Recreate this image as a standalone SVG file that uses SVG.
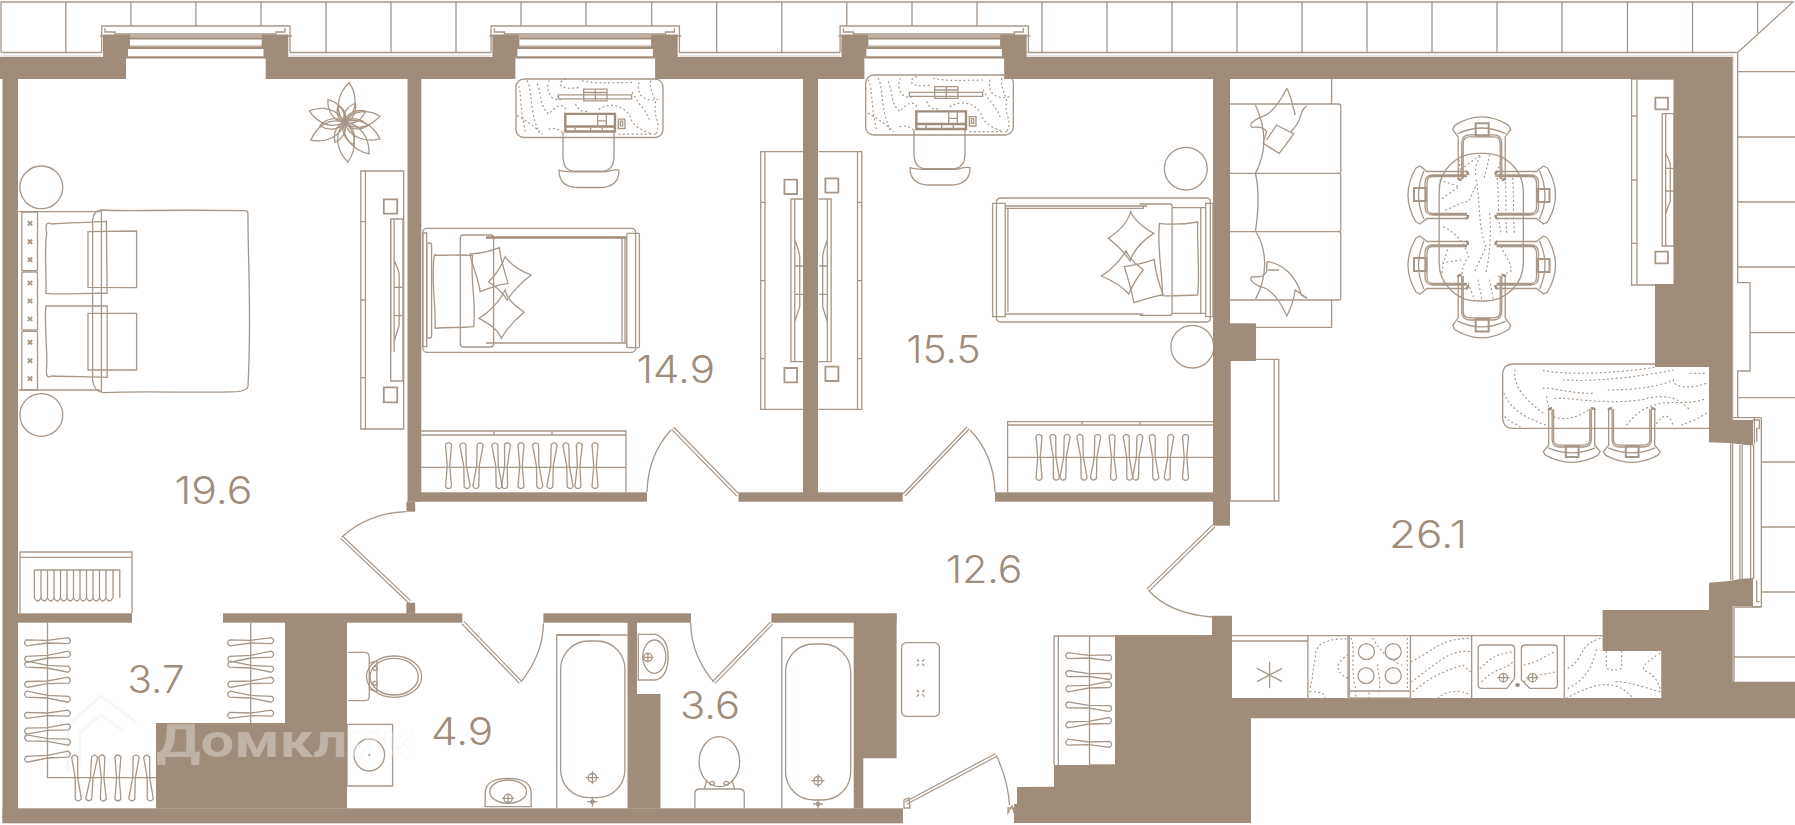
<svg xmlns="http://www.w3.org/2000/svg" xmlns:xlink="http://www.w3.org/1999/xlink" width="1795" height="825" viewBox="0 0 1795 825">
<style>
.w{fill:#a08c7b;stroke:none}
.l{fill:none;stroke:#a89686;stroke-width:1.3;vector-effect:non-scaling-stroke}
.t{fill:none;stroke:#a08c7b;stroke-width:2.4;vector-effect:non-scaling-stroke}
.p{fill:#a08c7b;stroke:none}
.d{fill:none;stroke:#a89686;stroke-width:1.2;stroke-dasharray:1 3.4;stroke-linecap:round;vector-effect:non-scaling-stroke}
.lf{fill:none;stroke:#a89686;stroke-width:4.2}
.lw{fill:none;stroke:#fff;stroke-width:1.8}
.n{font-family:"Inter","Lato","Liberation Sans",sans-serif;font-weight:300;font-size:38.5px;fill:#a08c7b}
.wm{font-family:"Roboto","Liberation Sans",sans-serif;font-weight:700;font-size:47px;fill:#fff;fill-opacity:.34;stroke:#888;stroke-opacity:.06}
</style>
<defs>
<path id="h" class="l" d="M-3,-21 Q0,-25 3,-21 L1.3,0 L3,21 Q0,25 -3,21 L-1.3,0 Z"/>
<path id="petal" class="l" d="M0,0 C-12,-11 -10,-28 0,-40 C10,-28 12,-11 0,0Z"/>
<g id="xm"><path class="l" style="stroke-width:1.8" d="M-2.2,-2.2 L2.2,2.2 M-2.2,2.2 L2.2,-2.2"/></g>
<g id="cross"><circle class="l" r="4.2"/><path class="l" d="M-6.5,0 H6.5 M0,-6.5 V6.5"/></g>
<g id="chair">
<path class="l" d="M-27,-9 Q0,-25 27,-9 L29,-5 L23.5,2 V41 M-27,-9 L-29,-5 L-23.5,2 V41"/>
<path class="l" d="M-24,-1 Q0,-12 24,-1"/>
<path class="l" d="M-20,42 V8 Q-20,0 -12,0 H12 Q20,0 20,8 V42 M-18.5,42 V8 Q-18.5,2 -12,2 H12 Q18.5,2 18.5,8 V42"/>
<path class="t" d="M-23.5,41 Q-23.5,43 -20,43 M23.5,41 Q23.5,43 20,43"/>
<rect class="l" style="stroke-width:2" x="-6" y="-11" width="13" height="12"/>
</g>
<g id="win">
<path class="l" d="M101.7,52.5 V26 H290 V52.5 M100,36 H108 M283,36 H292"/>
<path class="l" d="M105,28 V32 H115 V34 H276 V32 H285 V28"/>
<path class="l" d="M130,36 H262"/>
<path class="t" d="M130,38.4 H262"/>
<path class="l" style="stroke-opacity:.6" d="M130,46 H262"/>
<path class="t" d="M128,47.8 H264"/>
<path class="t" d="M126,57.4 H266"/>
</g>
<g id="desk" transform="translate(850,70) scale(.33333)">
<g class="dots">
<path class="d" d="M55,30 C70,60 60,100 80,180"/><path class="d" d="M85,25 C100,50 90,110 120,180"/><path class="d" d="M115,35 C130,70 120,100 150,125 C170,100 190,90 200,110"/><path class="d" d="M150,25 C140,50 150,90 190,80"/><path class="d" d="M200,20 C170,30 180,55 240,45"/><path class="d" d="M55,130 C90,150 110,165 130,185"/><path class="d" d="M250,25 C300,35 340,30 400,30"/><path class="d" d="M420,30 C410,70 440,90 480,80"/><path class="d" d="M455,25 C450,60 470,70 470,100 C460,130 490,150 470,185"/><path class="d" d="M230,95 C240,115 250,120 270,115"/><path class="d" d="M300,110 C340,85 380,105 395,135 C400,160 430,175 460,185"/><path class="d" d="M400,60 C420,100 440,110 450,140"/><path class="d" d="M150,170 C165,165 180,170 190,180"/><path class="d" d="M360,185 H470"/>
</g>
<rect class="l" x="178" y="67" width="220" height="12"/>
<rect class="l" x="254" y="50" width="70" height="35"/>
<path class="l" d="M254,60 H324 M289,50 V85"/>
<rect class="t" x="199" y="124" width="149" height="53"/>
<path class="t" d="M199,162 H348"/>
<path class="l" d="M296,124 V162 M322,124 V162 M296,145 H322 M228,162 V177 M275,162 V177 M310,162 V177"/>
<rect class="l" x="358" y="140" width="20" height="28"/>
<rect class="l" x="364" y="146" width="7" height="14"/>
<path class="l" d="M192,180 V250 Q192,295 225,296 H310 Q345,295 345,250 V180"/>
<path class="l" d="M180,293 Q180,345 240,345 H300 Q360,345 360,293 Q345,290 320,298 H220 Q195,298 180,293Z"/>
</g>
<g id="tv3">
<path class="l" d="M0,0 V400 M9,0 V400 M9,125 Q20,150 22,165 V320 Q14,345 10,365 M9,205 H30 M9,290 H30"/>
</g>
</defs>

<g id="balcony">
<path class="l" d="M1,52.5 V2 H1793 L1737.7,52.5 V282.7 H1750 V371 H1737.7 V418 M1.5,52.5 H101.7 M290,52.5 H491 M679,52.5 H840 M1027.5,52.5 H1737.7"/>
<path class="l" style="stroke-opacity:.35" d="M1,56 H101 M290,56 H491 M679,56 H840 M1027.5,56 H1733 V420 M1733,606 V682"/>
<path class="l" d="M65.8,2 V52.5 M130.9,2 V26 M195.9,2 V26 M261,2 V26 M326,2 V52.5 M391,2 V52.5 M456,2 V52.5 M521,2 V26 M586,2 V26 M651.7,2 V26 M716.7,2 V52.5 M781.8,2 V52.5 M846.8,2 V26 M912,2 V26 M977,2 V26 M1042,2 V52.5 M1107,2 V52.5 M1172,2 V52.5 M1237,2 V52.5 M1302,2 V52.5 M1367,2 V52.5 M1432,2 V52.5 M1497,2 V52.5 M1562,2 V52.5 M1627.5,2 V52.5 M1692.5,2 V52.5 M1757.6,2 V33"/>
<path class="l" d="M1737.7,71.7 H1795 M1737.7,137 H1795 M1737.7,202 H1795 M1737.7,267 H1795 M1750,332.7 H1795 M1737.7,397.7 H1795 M1761,462 H1795 M1761,527 H1795 M1761,592 H1795 M1734,657 H1795 M1734,607 H1761 M1734,682 V607"/>
</g>

<g id="windows">
<use xlink:href="#win" href="#win"/>
<use xlink:href="#win" href="#win" transform="translate(389.4,0)"/>
<use xlink:href="#win" href="#win" transform="translate(738.4,0)"/>
<g transform="translate(1195,405) scale(.38265,.33333)">
<path class="l" d="M1400,115 V525 M1405,115 V525 M1424,120 V522 M1430,120 V522 M1452,122 V520 M1460,120 V522 M1480,38 V605 H1455 M1405,38 H1480 M1458,45 H1475 V70 H1468 V110 M1468,525 V590 H1475 M1462,40 V118"/>
</g>
</g>

<g id="furniture">
<g transform="translate(1,0)">
<rect class="l" x="515" y="79" width="147" height="58.5" rx="8"/>
</g>
<use xlink:href="#desk" href="#desk" transform="translate(-351,2.5)"/>
<rect class="l" x="865.7" y="75" width="147.6" height="60" rx="8"/>
<use xlink:href="#desk" href="#desk"/>

<g id="plant" transform="translate(344.4,122.3)">
<use href="#petal" transform="rotate(7)"/><use href="#petal" transform="rotate(80) scale(.9)"/><use href="#petal" transform="rotate(115) scale(.98)"/><use href="#petal" transform="rotate(142)"/><use href="#petal" transform="rotate(175)"/><use href="#petal" transform="rotate(242) scale(.95)"/><use href="#petal" transform="rotate(288) scale(.92)"/><use href="#petal" transform="rotate(324) scale(.7)"/>
<use href="#petal" transform="rotate(30) scale(.55)"/><use href="#petal" transform="rotate(62) scale(.6)"/><use href="#petal" transform="rotate(98) scale(.6)"/><use href="#petal" transform="rotate(158) scale(.6)"/><use href="#petal" transform="rotate(205) scale(.55)"/><use href="#petal" transform="rotate(262) scale(.62)"/><use href="#petal" transform="rotate(340) scale(.45)"/>
</g>

<g id="bed1" transform="scale(.38265,.33333)">
<ellipse class="l" cx="108" cy="562" rx="56" ry="64"/>
<ellipse class="l" cx="108" cy="1245" rx="56" ry="64"/>
<path class="l" d="M48,635 H262 M48,1170 H262"/>
<rect class="l" x="57" y="636" width="41" height="176" rx="3"/><rect class="l" x="57" y="816" width="41" height="174" rx="3"/><rect class="l" x="57" y="994" width="41" height="176" rx="3"/>
<path class="l" d="M265,630 C350,635 400,628 640,632 Q648,632 648,642 C648,800 658,950 648,1160 Q645,1172 620,1175 C500,1180 400,1172 270,1178 Q245,1175 242,1140 V660 Q244,632 265,630Z M265,632 V1176"/>
<path class="l" d="M122,700 Q115,660 135,672 C170,668 220,668 278,664 L280,880 C220,878 170,885 120,880 C122,820 115,750 122,700Z"/>
<path class="l" d="M120,918 H280 V1132 C220,1130 170,1130 135,1128 Q118,1140 122,1100 C125,1060 115,980 120,918Z"/>
<path class="l" d="M230,695 L357,693 V863 L230,862Z M230,940 L357,940 V1110 L230,1110Z"/>
</g>
<g id="bed1marks">
<use href="#xm" x="30" y="223.3"/><use href="#xm" x="30" y="241.7"/><use href="#xm" x="30" y="259.7"/><use href="#xm" x="30" y="283"/><use href="#xm" x="30" y="301"/><use href="#xm" x="30" y="319"/><use href="#xm" x="30" y="342.3"/><use href="#xm" x="30" y="360.7"/><use href="#xm" x="30" y="378.7"/>
</g>

<g id="tvunit1" transform="scale(.38265,.33333)">
<rect class="l" x="943" y="513" width="112" height="774"/>
<path class="l" d="M955,513 V1287 M943,665 H955 M943,900 H955 M943,1133 H955"/>
<rect class="l" x="1003" y="598" width="35" height="43" style="stroke-width:1.8"/><rect class="l" x="1003" y="1162" width="35" height="45" style="stroke-width:1.8"/>
<rect class="l" x="1021" y="657" width="32" height="486"/>
<use href="#tv3" transform="translate(1021,657)"/>
</g>

<g id="bed2">
<rect class="l" x="422.8" y="228.3" width="212.8" height="124" rx="4"/>
<rect class="l" x="626.8" y="233.3" width="12.6" height="114.4" rx="1"/>
<rect class="l" x="422.8" y="233" width="3.9" height="113.7"/>
<rect class="l" x="426.7" y="243" width="4.9" height="95" rx="2"/>
<rect class="l" x="460.3" y="235" width="33.3" height="112" rx="3"/>
<path class="t" d="M486,237.5 H626"/>
<path class="l" d="M486,343 H626 M622,238 V343 M625,238 V343"/>
<g transform="scale(.38265,.33333)">
<path class="l" d="M1135,765 C1170,768 1200,762 1235,767 C1228,840 1245,900 1238,980 C1200,985 1170,980 1137,985 C1140,910 1125,840 1135,765Z"/>
<path class="l" d="M1228,762 C1260,760 1280,755 1305,743 C1308,780 1320,820 1328,850 C1300,855 1275,865 1255,875 C1250,835 1235,800 1228,762Z"/>
<path class="l" d="M1320,770 C1335,795 1365,815 1388,825 C1365,845 1340,875 1325,900 C1315,875 1295,860 1277,845 C1295,825 1310,800 1320,770Z"/>
<path class="l" d="M1320,870 C1325,900 1350,920 1370,937 C1345,960 1325,985 1310,1015 C1300,985 1275,970 1252,955 C1280,935 1305,905 1320,870Z"/>
</g>
</g>

<g id="tvunits23" transform="translate(600,0) scale(.38265,.33333)">
<path class="l" d="M531,455 H420 V1228 H531 M431,455 V1228 M420,607 H431 M420,842 H431 M420,1076 H431"/>
<path class="l" d="M571,455 H684 V1228 H571 M673,455 V1228 M673,607 H684 M673,842 H684 M673,1076 H684"/>
<rect class="l" x="482" y="539" width="33" height="43" style="stroke-width:1.8"/><rect class="l" x="482" y="1104" width="33" height="43" style="stroke-width:1.8"/>
<rect class="l" x="589" y="535" width="34" height="43" style="stroke-width:1.8"/><rect class="l" x="589" y="1100" width="34" height="43" style="stroke-width:1.8"/>
<path class="l" d="M531,597 H499 V1085 H531 M509,597 V1085 M509,720 Q520,750 522,770 V920 Q515,945 509,965 M509,798 H531 M509,883 H531"/>
<path class="l" d="M571,597 H604 V1085 H571 M594,597 V1085 M594,720 Q584,750 582,770 V920 Q588,945 594,965 M573,798 H594 M573,883 H594"/>
</g>

<g id="bed3" transform="translate(600,0) scale(.38265,.33333)">
<ellipse class="l" cx="1531" cy="506" rx="56" ry="64"/>
<ellipse class="l" cx="1548" cy="1040" rx="56" ry="64"/>
<path class="l" d="M1585,594 H1050 Q1036,594 1036,606 V955 Q1036,966 1050,966 H1585 Q1595,966 1595,955 V606 Q1595,594 1585,594Z"/>
<rect class="l" x="1026" y="610" width="33" height="340"/>
<rect class="l" x="1583" y="610" width="19" height="340"/>
<path class="l" d="M1059,618 H1430 M1059,625 H1420 V620 M1066,625 V935 M1059,942 H1420"/>
<path class="l" d="M1410,612 H1490 Q1495,612 1495,618 V940 Q1495,946 1490,946 H1410 M1495,623 H1583 M1495,940 H1583 M1570,623 V940"/>
<path class="l" d="M1387,635 C1395,660 1425,685 1447,700 C1420,720 1395,750 1385,783 C1370,755 1345,730 1328,715 C1355,695 1380,665 1387,635Z"/>
<path class="l" d="M1375,752 C1385,780 1400,790 1420,810 C1405,830 1390,860 1382,882 C1365,860 1335,840 1310,828 C1335,810 1360,780 1375,752Z"/>
<path class="l" d="M1370,800 C1395,795 1425,790 1448,778 C1452,815 1460,850 1472,885 C1445,888 1420,900 1395,908 C1390,875 1380,835 1370,800Z"/>
<path class="l" d="M1462,670 C1495,675 1530,672 1562,666 C1560,740 1568,810 1562,885 C1530,885 1495,890 1470,887 C1470,815 1455,745 1462,670Z"/>
</g>

<g id="wardrobe1">
<path class="l" d="M421.3,431 H626 V492 M421.3,435 H626 M421.3,467.3 H626 M494,431 V435 M552,431 V435"/>
<use href="#h" transform="translate(448.5,465.7)"/><use href="#h" transform="translate(465,465.7) rotate(-6)"/><use href="#h" transform="translate(478,465.7) rotate(6)"/><use href="#h" transform="translate(497,465.7) rotate(-6)"/><use href="#h" transform="translate(506,465.7) rotate(4)"/><use href="#h" transform="translate(521,465.7)"/><use href="#h" transform="translate(537.7,465.7) rotate(-6)"/><use href="#h" transform="translate(552,465.7) rotate(6)"/><use href="#h" transform="translate(568,465.7) rotate(-6)"/><use href="#h" transform="translate(578.6,465.7) rotate(2)"/><use href="#h" transform="translate(595,465.7)"/>
</g>
<g id="wardrobe2">
<path class="l" d="M1007.6,492 V421.7 H1213 M1007.6,425 H1213 M1007.6,457.3 H1213 M1082,421.7 V425 M1140,421.7 V425"/>
<use href="#h" transform="translate(1039,457.3)"/><use href="#h" transform="translate(1054.6,457.3) rotate(-5)"/><use href="#h" transform="translate(1065,457.3) rotate(6)"/><use href="#h" transform="translate(1082,457.3) rotate(-6)"/><use href="#h" transform="translate(1095.6,457.3) rotate(6)"/><use href="#h" transform="translate(1112.8,457.3) rotate(-2)"/><use href="#h" transform="translate(1128,457.3) rotate(-5)"/><use href="#h" transform="translate(1137.7,457.3) rotate(6)"/><use href="#h" transform="translate(1154,457.3) rotate(-5)"/><use href="#h" transform="translate(1169,457.3) rotate(5)"/><use href="#h" transform="translate(1185.5,457.3)"/>
</g>

<g id="radiator">
<path class="l" d="M20,613 V552 H132 V613 M20,557.3 H132"/>
<path class="l" d="M34.4,598 V570 H119.8 V598 M41,570 V598 M47.5,570 V598 M54,570 V598 M60.5,570 V598 M67,570 V598 M73.5,570 V598 M80,570 V598 M86.5,570 V598 M93,570 V598 M99.5,570 V598 M106,570 V598 M113,570 V598"/>
<path class="l" d="M34.4,598 q3.3,6 6.6,0 q3.3,6 6.5,0 q3.3,6 6.5,0 q3.3,6 6.5,0 q3.3,6 6.5,0 q3.3,6 6.5,0 q3.3,6 6.5,0 q3.3,6 6.5,0 q3.3,6 6.5,0 q3.3,6 6.5,0 q3.3,6 6.5,0 q3.3,6 6.8,0"/>
</g>

<g id="closet1">
<path class="l" d="M47.5,622.7 V777.7 H156 M250.7,622.7 V723"/>
<use href="#h" transform="translate(47.5,641.7) rotate(87)"/><use href="#h" transform="translate(47.5,656.7) rotate(83)"/><use href="#h" transform="translate(47.5,666.7) rotate(97)"/><use href="#h" transform="translate(47.5,682.3) rotate(84)"/><use href="#h" transform="translate(47.5,696.7) rotate(97)"/><use href="#h" transform="translate(47.5,714.3) rotate(87)"/><use href="#h" transform="translate(47.5,729) rotate(84)"/><use href="#h" transform="translate(47.5,740) rotate(96)"/><use href="#h" transform="translate(47.5,756.7) rotate(83)"/>
<use href="#h" transform="translate(250.7,641.7) rotate(87)"/><use href="#h" transform="translate(250.7,656.7) rotate(83)"/><use href="#h" transform="translate(250.7,666.7) rotate(97)"/><use href="#h" transform="translate(250.7,682.3) rotate(84)"/><use href="#h" transform="translate(250.7,696.7) rotate(97)"/><use href="#h" transform="translate(250.7,714.3) rotate(87)"/>
<use href="#h" transform="translate(76.5,778) rotate(-5)"/><use href="#h" transform="translate(91.7,778) rotate(8)"/><use href="#h" transform="translate(102.6,778) rotate(-2)"/><use href="#h" transform="translate(117.9,778)"/><use href="#h" transform="translate(134,778) rotate(6)"/><use href="#h" transform="translate(148.5,778) rotate(-5)"/>
</g>

<g id="closet2">
<path class="l" d="M1054,765 V636 H1115 M1058.3,636 V765 M1089.5,636 V765 H1115"/>
<use href="#h" transform="translate(1088.7,656.7) rotate(93)"/><use href="#h" transform="translate(1088.7,675) rotate(94)"/><use href="#h" transform="translate(1088.7,686.7) rotate(84)"/><use href="#h" transform="translate(1088.7,706.7) rotate(95)"/><use href="#h" transform="translate(1088.7,722.7) rotate(84)"/><use href="#h" transform="translate(1088.7,743.3) rotate(93)"/>
</g>

<g id="bath1" transform="translate(0,405) scale(.38265,.33333)">
<path class="l" d="M910,742 H952 Q965,742 965,755 V875 Q965,887 952,887 H910"/>
<ellipse class="l" cx="1030" cy="815" rx="72" ry="62"/><ellipse class="l" cx="1030" cy="815" rx="63" ry="55"/>
<path class="l" d="M965,775 L985,768 V860 L965,853"/><circle class="l" cx="980" cy="790" r="6"/><circle class="l" cx="980" cy="835" r="6"/>
<rect class="l" x="907" y="958" width="119" height="185"/>
<ellipse class="l" cx="965" cy="1050" rx="40" ry="48"/><circle cx="965" cy="1050" r="3" class="p"/>
<path class="l" d="M1268,1205 V1165 Q1268,1120 1328,1120 Q1388,1120 1388,1165 V1205 Z"/>
<ellipse class="l" cx="1328" cy="1160" rx="48" ry="35"/>
<ellipse class="l" cx="1328" cy="1180" rx="11" ry="12"/><path class="l" d="M1312,1180 H1344 M1328,1165 V1195"/>
<path class="l" d="M1455,1210 V690 H1568"/>
</g>
<path class="l" d="M556.8,635 H627.5"/>
<rect class="l" x="560.6" y="641" width="64.3" height="156.7" rx="28"/>
<use href="#cross" transform="translate(592.4,777.7)"/>
<g transform="translate(592.4,801.7)"><circle r="2.2" class="p"/><path class="l" d="M-5,0 H5 M0,-5 V5"/></g>

<g id="bath2" transform="translate(600,405) scale(.38265,.33333)">
<path class="l" d="M100,688 H145 Q178,700 178,755 Q178,815 145,825 H100Z"/>
<ellipse class="l" cx="142" cy="755" rx="30" ry="50"/>
<ellipse class="l" cx="125" cy="757" rx="11" ry="12"/><path class="l" d="M110,757 H140 M125,742 V772"/>
<ellipse class="l" cx="312" cy="1070" rx="53" ry="75"/>
<path class="l" d="M248,1210 V1165 Q248,1152 262,1152 H362 Q377,1152 377,1165 V1210 M280,1125 L272,1152 M345,1125 L352,1152"/>
<circle class="l" cx="293" cy="1135" r="6"/><circle class="l" cx="330" cy="1135" r="6"/>
<path class="l" d="M475,1210 V698 H663"/>
<rect class="l" x="788" y="713" width="99" height="221" rx="14"/>
<path class="l" d="M828,763 L834,770 M848,763 L842,770 M828,783 L834,776 M848,783 L842,776 M828,855 L834,862 M848,855 L842,862 M828,875 L834,868 M848,875 L842,868"/>
</g>
<rect class="l" x="785.6" y="644" width="65.1" height="156" rx="28"/>
<use href="#cross" transform="translate(818,780.7)"/>
<g transform="translate(818,804)"><circle r="2.2" class="p"/><path class="l" d="M-5,0 H5 M0,-5 V5"/></g>

<g id="living" transform="translate(1195,0) scale(.38265,.33333)">
<path class="l" d="M357,237 V312 M357,900 V982 H160"/>
<path class="l" d="M91,312 H375 Q381,312 381,318 V514 Q381,520 375,520 H91 M375,520 Q381,520 381,526 V688 Q381,695 375,695 H91 M375,695 Q381,695 381,701 V895 Q381,900 375,900 H91"/>
<path class="l" d="M158,315 C180,370 195,440 158,520 C170,580 165,640 158,693 C190,750 190,830 158,898"/>
<path class="l" d="M240,265 C225,300 200,345 170,352 Q135,372 150,382 C165,380 180,380 187,395 L178,430 L220,460 L258,402 L213,375 L187,420 M240,265 C250,285 255,315 262,345 M293,318 C270,330 285,360 250,395"/>
<path class="l" d="M240,948 C225,910 200,865 170,860 Q135,840 150,830 C165,832 180,832 187,815 L188,785 C230,790 265,830 278,885 L293,895 L262,870 C258,900 250,925 240,948Z M190,810 H220"/>
<rect class="l" x="1141" y="237" width="111" height="618"/>
<path class="l" d="M1155,237 V855 M1141,348 H1155 M1141,540 H1155 M1141,730 H1155"/>
<rect class="l" x="1203" y="293" width="33" height="35" style="stroke-width:1.8"/><rect class="l" x="1203" y="755" width="33" height="35" style="stroke-width:1.8"/>
<rect class="l" x="1221" y="341" width="31" height="397"/>
<path class="l" d="M1230,341 V738 M1230,460 Q1240,480 1242,495 V605 Q1235,620 1231,640 M1230,505 H1250 M1230,573 H1250"/>
<rect class="l" x="92" y="1078" width="127" height="425"/>
<path class="l" d="M207,1078 V1503"/>
<rect class="l" x="638" y="460" width="220" height="443" rx="100" ry="115"/>
<path class="d" d="M705,500 L745,465 M745,470 C735,490 730,510 735,530 M770,465 C765,490 760,520 755,535 M800,475 C795,500 790,520 785,530 M690,480 L695,525"/>
<path class="d" d="M640,540 L690,560 L640,600 M655,630 C680,620 695,605 715,605 L735,555 M735,540 C745,600 740,680 760,740 C750,770 735,800 730,820"/>
<path class="d" d="M790,535 C795,600 790,650 800,700 M810,535 C815,580 810,650 815,700 M830,535 C835,590 830,650 835,700 M650,680 C680,700 700,720 715,770 C700,790 695,820 700,830 M770,640 C775,690 770,770 760,820"/>
<path class="d" d="M660,750 C650,780 645,810 645,830 M800,740 C815,780 830,790 825,815 L790,830 M695,780 L640,790 M740,840 L750,900 M715,850 L730,900 M770,840 L780,900"/>
</g>
<use href="#chair" transform="translate(1481.7,134.8) scale(1,1.05)"/>
<use href="#chair" transform="translate(1481.7,320) scale(1,-1.05)"/>
<use href="#chair" transform="translate(1425,195) rotate(-90)"/>
<use href="#chair" transform="translate(1425,265) rotate(-90)"/>
<use href="#chair" transform="translate(1538.5,195) rotate(90)"/>
<use href="#chair" transform="translate(1538.5,265) rotate(90)"/>

<g id="bar">
<g transform="translate(1500,360) scale(.33333)">
<path class="l" d="M465,12 H40 Q8,12 8,45 V170 Q8,205 40,205 H627"/>
<path class="d" d="M130,32 C200,45 350,40 465,22 M190,60 C300,65 420,50 520,30 M570,40 L620,40 M45,30 C40,60 50,100 130,160 M130,85 C150,80 200,100 280,100 M325,90 C400,90 480,80 520,60 C520,80 560,90 620,70 M12,100 C30,140 60,170 140,195 M165,115 C200,110 300,135 420,120 C500,100 530,110 570,150 M140,110 C140,130 150,150 160,170 C200,185 240,170 280,140 M380,195 C400,170 420,150 450,140 C500,115 560,140 620,115 M470,190 C490,160 510,160 520,200 M545,195 C570,185 600,175 625,155 M15,170 C30,190 50,190 60,200"/>
</g>
<use href="#chair" transform="translate(1571.7,447) scale(.98,-.9)"/>
<use href="#chair" transform="translate(1631.7,447) scale(.98,-.9)"/>
</g>

<g id="kitchen" transform="translate(1195,405) scale(.38265,.33333)">
<path class="l" d="M97,692 H1065 M97,708 H295 M295,692 V882 M400,692 V882 M563,692 V882 M723,692 V880 M965,692 V880 M97,881 H1220 M1220,738 V881"/>
<path class="l" d="M195,770 V850 M162,790 L228,830 M228,790 L162,830"/>
<ellipse class="l" cx="448" cy="740" rx="21" ry="24"/><ellipse class="l" cx="518" cy="740" rx="21" ry="24"/><ellipse class="l" cx="447" cy="812" rx="21" ry="24"/><ellipse class="l" cx="518" cy="812" rx="21" ry="24"/>
<path class="l" d="M403,858 H563 M403,692 V878"/>
<rect x="400" y="876" width="163" height="5" fill="#c9bdb2"/>
<path class="l" d="M750,720 H825 Q835,720 835,730 V820 L815,850 H750 Q740,850 740,840 V730 Q740,720 750,720Z"/>
<path class="l" d="M863,720 H937 Q947,720 947,730 V840 Q947,850 937,850 H875 L853,825 V730 Q853,720 863,720Z"/>
<ellipse class="l" cx="806" cy="818" rx="11" ry="12"/><path class="l" d="M790,818 H822 M806,803 V833"/>
<ellipse class="l" cx="882" cy="818" rx="11" ry="12"/><path class="l" d="M866,818 H898 M882,803 V833"/>
<circle cx="843" cy="840" r="6" class="p"/>
<path class="d" d="M395,702 C340,700 310,720 315,760 C305,800 310,820 300,850 M400,750 C370,770 360,800 400,820 M300,860 C330,860 340,865 340,882"/>
<path class="d" d="M408,700 C420,730 405,790 420,850 V880 M465,700 C480,730 500,760 540,780 M555,700 V850 M480,860 C490,820 470,790 480,770 M455,880 V860"/>
<path class="d" d="M565,770 C620,740 640,700 720,700 M565,830 C620,790 660,730 720,740 M570,860 C630,800 680,790 700,780 L720,800 M635,880 C650,860 690,850 720,870"/>
<path class="d" d="M745,790 C790,740 800,750 830,740 M750,830 C780,790 820,790 830,770 M860,780 C900,770 920,750 940,740 M860,830 C900,800 930,810 940,800"/>
<path class="d" d="M975,790 C1020,760 1000,720 1060,700 M975,850 C1030,820 1040,770 1050,730 M1075,740 V790 Q1095,800 1115,790 V740 M970,880 C1050,830 1100,820 1145,880 M1215,745 C1180,770 1160,790 1180,800 C1200,810 1210,830 1215,850 M1100,830 C1140,830 1180,850 1215,860"/>
</g>
</g>

<g id="walls">
<polygon class="w" points="0,57 103,57 103,34.5 130,34.5 130,47.5 128,47.5 128,57 126,57 126,79 0,79"/>
<polygon class="w" points="265.7,79 265.7,57 263.5,57 263.5,47.5 261.7,47.5 261.7,34.5 288.3,34.5 288.3,57 492.4,57 492.4,34.5 519.4,34.5 519.4,47.5 517.4,47.5 517.4,57 515.4,57 515.4,79"/>
<polygon class="w" points="655.1,79 655.1,57 652.9,57 652.9,47.5 651.1,47.5 651.1,34.5 677.7,34.5 677.7,57 841.4,57 841.4,34.5 868.4,34.5 868.4,47.5 866.4,47.5 866.4,57 864.4,57 864.4,79"/>
<polygon class="w" points="1004.1,79 1004.1,57 1001.9,57 1001.9,47.5 1000.1,47.5 1000.1,34.5 1026.7,34.5 1026.7,57 1732.7,57 1732.7,420 1753,420 1753,445.7 1729,443 1709,442.3 1709,367 1655,367 1655,284 1674,284 1674,79"/>
<polygon class="w" points="1709,582.7 1729.6,581 1740,579 1753,578 1753,606 1732.7,606 1732.7,681.7 1795,681.7 1795,718.3 1251,718.3 1251,823 1014,823 1014,804 1017,804 1017,787 1054,786.7 1054,765 1115,765 1115,635 1212,635 1212,615.7 1232,615.7 1232,698.3 1662,698.3 1662,651 1602.6,651 1602.6,610 1709,610"/>
<rect class="w" x="2.5" y="79" width="15.5" height="744"/>
<rect class="w" x="2.5" y="808.3" width="900.5" height="15"/>
<rect class="w" x="407.5" y="79" width="13.8" height="422.7"/>
<rect class="w" x="415" y="492.3" width="232" height="9.4"/>
<rect class="w" x="738.5" y="492.3" width="164.2" height="9.4"/>
<rect class="w" x="803" y="79" width="15" height="422"/>
<rect class="w" x="995" y="492.3" width="219" height="9.4"/>
<rect class="w" x="1213" y="79" width="17" height="446.7"/>
<rect class="w" x="1230" y="323.3" width="26" height="37.7"/>
<rect class="w" x="406.4" y="501.7" width="8.8" height="10"/>
<rect class="w" x="406.4" y="602.7" width="8.8" height="11"/>
<rect class="w" x="18" y="613.3" width="114" height="9.4"/>
<rect class="w" x="223" y="613.3" width="239.3" height="9.4"/>
<rect class="w" x="543.4" y="613.3" width="147.6" height="9.4"/>
<rect class="w" x="771.4" y="613.3" width="125.2" height="9.4"/>
<polygon class="w" points="285,622 347,622 347,808.5 156,808.5 156,723 285,723"/>
<polygon class="w" points="627.5,622 637,622 637,694 660.5,694 660.5,808.5 627.5,808.5"/>
<polygon class="w" points="896.6,613.3 896.6,758.3 863.3,758.3 863.3,808.5 853.7,808.5 853.7,622"/>
</g>

<g id="doors">
<path class="l" d="M406.4,511.7 Q368,513 341.7,537.3 M647,492 Q648,455 671,430 M995,492 Q994,455 970,430 M543.4,623.3 Q543,655 520.5,682.3 M690.7,623 Q691,655 714,682.3 M1148,590 Q1170,614 1212,617 M996,755 Q1008,780 1009.5,805"/>
<path class="lf" d="M341.7,537.3 L409.5,601.7 M672.7,428.3 L737.8,495 M968,428 L904,495 M463,622.7 L520.5,682.3 M771.4,623.3 L714,682.3 M1214,525.7 L1148,590 M906,803 L996,755"/>
<path class="lw" d="M341.7,537.3 L409.5,601.7 M672.7,428.3 L737.8,495 M968,428 L904,495 M463,622.7 L520.5,682.3 M771.4,623.3 L714,682.3 M1214,525.7 L1148,590 M906,803 L996,755"/>
<path class="l" d="M904,800 L909,798 L910,808 H904Z M1008,813 L1012,806 L1014,813 V808 H1008Z"/>
</g>

<g id="labels">
<text class="n" x="174.5" y="504.3" textLength="78" lengthAdjust="spacingAndGlyphs">19.6</text>
<text class="n" x="636.5" y="383.3" textLength="78.5" lengthAdjust="spacingAndGlyphs">14.9</text>
<text class="n" x="906.5" y="362.7" textLength="74" lengthAdjust="spacingAndGlyphs">15.5</text>
<text class="n" x="946" y="582.7" textLength="76.5" lengthAdjust="spacingAndGlyphs">12.6</text>
<text class="n" x="1389" y="548.3" textLength="78" lengthAdjust="spacingAndGlyphs">26.1</text>
<text class="n" x="127.5" y="692.7" textLength="57" lengthAdjust="spacingAndGlyphs">3.7</text>
<text class="n" x="431" y="745" textLength="62.3" lengthAdjust="spacingAndGlyphs">4.9</text>
<text class="n" x="680" y="719" textLength="60" lengthAdjust="spacingAndGlyphs">3.6</text>
</g>

<g id="watermark">
<path d="M68,773 V725 L101,696 L137,723 M80,766 V732 L101,715 L122,730" fill="none" stroke="#888" stroke-opacity=".07" stroke-width="3"/>
<text class="wm" x="156" y="757" textLength="259" lengthAdjust="spacingAndGlyphs">Домклик</text>
</g>
</svg>
